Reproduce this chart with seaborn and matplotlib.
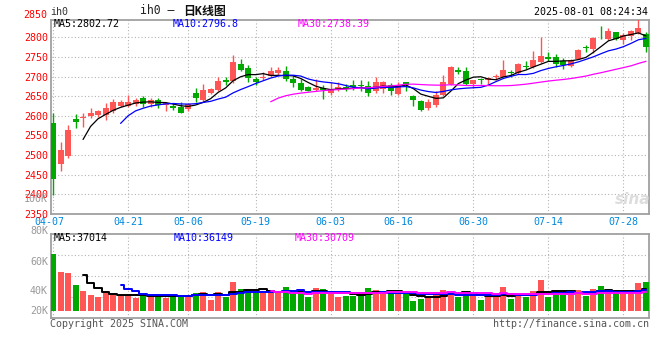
import numpy as np
import pandas as pd
import matplotlib
matplotlib.use("Agg")
import matplotlib.pyplot as plt
import matplotlib.transforms as mtransforms
import seaborn as sns

# -----------------------------
# DATA
# -----------------------------

holidays = ["2025-05-01", "2025-05-02", "2025-05-05", "2025-06-02"]
dates = pd.bdate_range("2025-04-07", "2025-07-31")
dates = dates[~dates.isin(pd.to_datetime(holidays))]

opens = [2581, 2477, 2498, 2592, 2594, 2600, 2602, 2602, 2613, 2625,
         2625, 2630, 2645, 2630, 2640, 2628, 2626, 2623, 2617, 2659,
         2640, 2659, 2665, 2691, 2689, 2732, 2722, 2693, 2695, 2701,
         2709, 2714, 2693, 2684, 2674, 2665, 2670, 2659, 2666, 2674,
         2679, 2679, 2676, 2662, 2668, 2679, 2656, 2685, 2651, 2638,
         2619, 2628, 2653, 2681, 2717, 2714, 2681, 2693, 2691, 2698,
         2700, 2712, 2710, 2727, 2724, 2738, 2749, 2749, 2740, 2727,
         2745, 2776, 2769, 2804, 2796, 2813, 2793, 2802, 2812, 2809]
highs = [2606, 2534, 2577, 2604, 2606, 2619, 2615, 2632, 2642, 2640,
         2653, 2645, 2651, 2645, 2646, 2636, 2632, 2636, 2632, 2670,
         2681, 2672, 2700, 2700, 2755, 2744, 2729, 2700, 2711, 2725,
         2723, 2727, 2704, 2694, 2677, 2694, 2678, 2687, 2685, 2681,
         2690, 2691, 2689, 2700, 2689, 2683, 2685, 2686, 2652, 2640,
         2642, 2664, 2704, 2728, 2724, 2725, 2691, 2696, 2700, 2706,
         2742, 2717, 2735, 2740, 2765, 2800, 2762, 2758, 2747, 2744,
         2769, 2780, 2800, 2829, 2823, 2814, 2810, 2819, 2846, 2813]
lows = [2397, 2460, 2493, 2568, 2572, 2594, 2598, 2589, 2608, 2622,
        2622, 2625, 2622, 2622, 2619, 2611, 2615, 2606, 2613, 2634,
        2636, 2656, 2662, 2679, 2683, 2713, 2687, 2678, 2690, 2698,
        2705, 2688, 2674, 2663, 2662, 2662, 2643, 2653, 2664, 2664,
        2666, 2664, 2650, 2659, 2659, 2653, 2653, 2664, 2625, 2611,
        2615, 2622, 2651, 2679, 2707, 2679, 2670, 2681, 2681, 2690,
        2698, 2700, 2707, 2718, 2721, 2735, 2740, 2725, 2718, 2725,
        2744, 2762, 2759, 2795, 2793, 2793, 2783, 2793, 2809, 2763]
closes = [2440, 2513, 2564, 2583, 2598, 2606, 2611, 2619, 2635, 2636,
          2634, 2639, 2630, 2639, 2628, 2632, 2621, 2608, 2630, 2646,
          2666, 2668, 2688, 2687, 2738, 2716, 2696, 2687, 2700, 2715,
          2717, 2693, 2684, 2666, 2664, 2670, 2666, 2667, 2674, 2670,
          2674, 2676, 2659, 2685, 2685, 2664, 2679, 2679, 2639, 2615,
          2636, 2653, 2685, 2725, 2711, 2681, 2690, 2690, 2696, 2702,
          2717, 2708, 2732, 2723, 2742, 2752, 2744, 2732, 2730, 2742,
          2768, 2772, 2797, 2802, 2816, 2796, 2806, 2815, 2823, 2776]
volumes = [97500, 67100, 65400, 44200, 33900, 27000, 24100, 32200, 28700, 27000,
           27000, 22400, 27000, 25800, 27000, 22400, 27000, 27000, 27000, 31000,
           32700, 18900, 32200, 24100, 49400, 37300, 35600, 31000, 29800, 31500,
           29800, 41300, 35600, 29800, 24100, 39000, 37300, 29800, 23600, 25800,
           25800, 32200, 39000, 35600, 29800, 33900, 29800, 28000, 16700, 20100,
           24100, 30400, 35600, 33900, 24100, 33900, 27000, 18400, 24100, 24100,
           40800, 20100, 28700, 24100, 33900, 52800, 23600, 35600, 27000, 27000,
           35600, 25800, 37300, 42500, 35600, 29800, 28000, 29800, 47600, 49400]

tick_dates = ["2025-04-07", "2025-04-21", "2025-05-06", "2025-05-19", "2025-06-03",
              "2025-06-16", "2025-06-30", "2025-07-14", "2025-07-28"]
price_ticks = [2350, 2400, 2450, 2500, 2550, 2600, 2650, 2700, 2750, 2800]
vol_labels = ["100K", "80K", "60K", "40K", "20K"]

df = pd.DataFrame({"date": dates, "open": opens, "high": highs,
                   "low": lows, "close": closes, "volume": volumes})
df["i"] = np.arange(len(df))
for n in (5, 10, 30):
    df[f"ma{n}"] = df["close"].rolling(n).mean()
    df[f"vma{n}"] = df["volume"].rolling(n).mean()

RED = "#ff5555"
GREEN = "#00a800"
df["color"] = np.where(df["close"] >= df["open"], RED, GREEN)

# -----------------------------
# FIGURE
# -----------------------------

sns.set_style("white")
plt.rcParams["font.family"] = ["DejaVu Sans Mono", "Noto Sans CJK SC"]
plt.rcParams["font.size"] = 7.2

W, H = 660, 360


def fx(x):
    return x / W


def fy(y):
    return 1 - y / H


fig = plt.figure(figsize=(6.6, 3.6), dpi=100)
ax = fig.add_axes([fx(50.7), fy(213.9), fx(649) - fx(50.7), fy(20) - fy(213.9)])
axv = fig.add_axes([fx(50.7), fy(318.3), fx(649) - fx(50.7), fy(234.3) - fy(318.3)])

grid_kw = dict(color="#b4b4b4", linestyle=(0, (1, 2)), linewidth=0.8)
tick_idx = [int(np.where(df["date"] == pd.Timestamp(d))[0][0]) for d in tick_dates]
tick_lab = [pd.Timestamp(d).strftime("%m-%d") for d in tick_dates]

# candles
body_lo = np.minimum(df["open"], df["close"])
body_h = np.maximum(np.abs(df["close"] - df["open"]), 1.5)
ax.vlines(df["i"], df["low"], df["high"], colors=df["color"], linewidth=1, zorder=3)
ax.bar(df["i"], body_h, bottom=body_lo, width=0.8, color=df["color"], linewidth=0, zorder=4)

sns.lineplot(data=df, x="i", y="ma5", color="black", lw=0.9, ax=ax, zorder=5)
sns.lineplot(data=df, x="i", y="ma10", color="#0000ff", lw=0.9, ax=ax, zorder=5)
sns.lineplot(data=df, x="i", y="ma30", color="#ff00ff", lw=0.9, ax=ax, zorder=5)

ax.set_xlim(-0.31, 79.4)
ax.set_ylim(2350, 2844)
ax.set_yticks(price_ticks)
ax.set_yticklabels([str(v) for v in price_ticks], color="#ff0000")
ax.set_xticks(tick_idx)
ax.set_xticklabels(tick_lab, color="#0088dd")
ax.tick_params(length=0, pad=2)
ax.grid(True, **grid_kw)
ax.set_xlabel("")
ax.set_ylabel("")

# first date label sits a little left, as in the reference
first = ax.get_xticklabels()[0]
first.set_transform(first.get_transform() +
                    mtransforms.ScaledTranslation(-4 / 100, 0, fig.dpi_scale_trans))

# volume
axv.bar(df["i"], df["volume"], width=0.8, color=df["color"], linewidth=0, zorder=3)
sns.lineplot(data=df, x="i", y="vma5", color="black", lw=1.4, ax=axv,
             drawstyle="steps-mid", zorder=5)
sns.lineplot(data=df, x="i", y="vma10", color="#0000ff", lw=1.4, ax=axv,
             drawstyle="steps-mid", zorder=5)
sns.lineplot(data=df, x="i", y="vma30", color="#ff00ff", lw=1.4, ax=axv,
             drawstyle="steps-mid", zorder=5)

axv.set_xlim(-0.31, 79.4)
vlo, vhi = -13072, 131408
axv.set_ylim(vlo, vhi)
axv.set_yticks(np.linspace(vlo, vhi, 5)[1:-1])
axv.set_yticklabels([])
axv.set_xticks(tick_idx)
axv.set_xticklabels([])
axv.tick_params(length=0)
axv.grid(True, **grid_kw)
axv.set_xlabel("")
axv.set_ylabel("")

for a in (ax, axv):
    for s in a.spines.values():
        s.set_color("#a0a0a0")
        s.set_linewidth(1.3)

# -----------------------------
# TEXTS
# -----------------------------

fig.text(fx(47), fy(15), "2850", color="#ff0000", ha="right", va="center")
for lab, y in zip(vol_labels, [199, 231, 262, 291, 311]):
    fig.text(fx(48), fy(y), lab, color="#999999", ha="right", va="center")

fig.text(fx(50), fy(12), "ih0", color="#333333", ha="left", va="center")
fig.text(fx(140), fy(11), "ih0 –", color="#222222", ha="left", va="center", size=8.3)
fig.text(fx(183), fy(11), "日K线图", color="#111111", ha="left", va="center",
         size=8.6, weight="bold")
fig.text(fx(648), fy(12), "2025-08-01 08:24:34", color="black", ha="right", va="center")

fig.text(fx(54), fy(24), "MA5:2802.72", color="black", va="center")
fig.text(fx(173), fy(24), "MA10:2796.8", color="#0000ff", va="center")
fig.text(fx(298), fy(24), "MA30:2738.39", color="#ff00ff", va="center")

fig.text(fx(54), fy(238), "MA5:37014", color="black", va="center")
fig.text(fx(174), fy(238), "MA10:36149", color="#0000ff", va="center")
fig.text(fx(295), fy(238), "MA30:30709", color="#ff00ff", va="center")

fig.text(fx(50), fy(324), "Copyright 2025 SINA.COM", color="#555555", va="center")
fig.text(fx(649), fy(324), "http://finance.sina.com.cn", color="#555555",
         ha="right", va="center")

fig.text(fx(633), fy(199), "sina", color="#dddddd", ha="center", va="center",
         size=11, style="italic", weight="bold", family="DejaVu Sans")

fig.savefig("out.png", dpi=100)
